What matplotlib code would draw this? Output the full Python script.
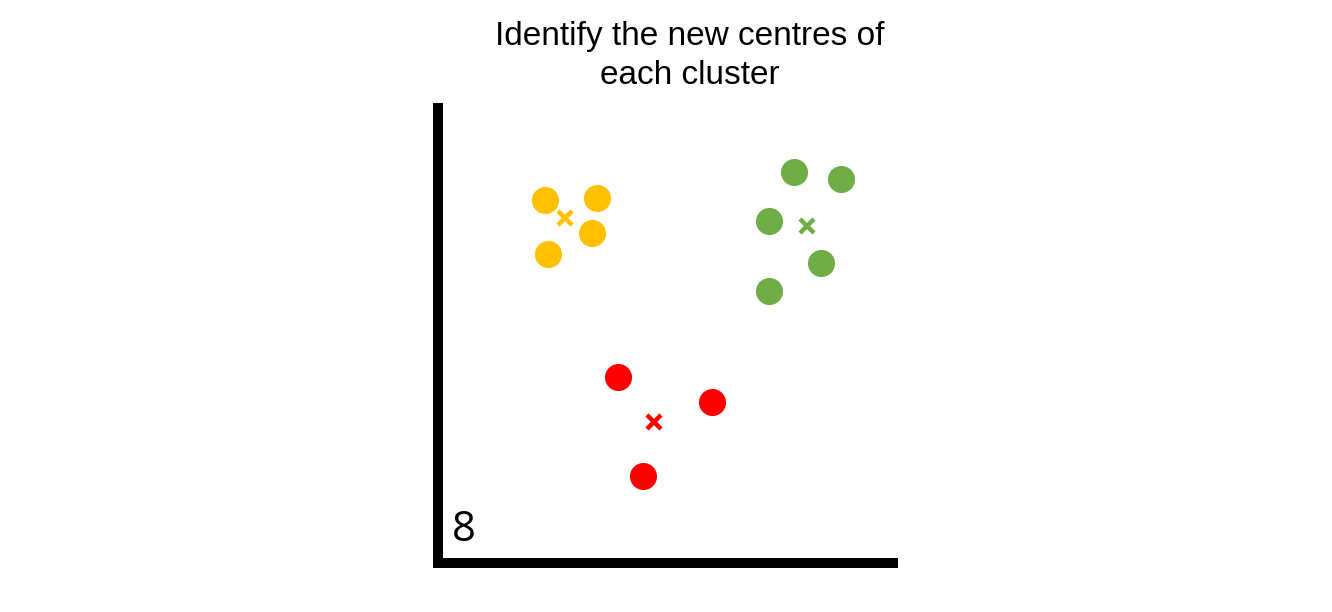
import matplotlib
matplotlib.use('Agg')
import matplotlib.pyplot as plt

# Dados dos clusters (unidades arbitrárias)
yellow_x = [107, 159, 154, 110]
yellow_y = [363, 365, 330, 309]
green_x = [356, 403, 331, 383, 331]
green_y = [391, 384, 342, 300, 272]
red_x = [180, 274, 205]
red_y = [186, 161, 87]

# Novos centros
centre_x = [127, 369, 216]
centre_y = [345, 337, 141]

c_yellow = '#FFC000'
c_green = '#70AD47'
c_red = '#FF0000'
centre_colors = [c_yellow, c_green, c_red]

fig = plt.figure(figsize=(13.32, 6.12), dpi=100)
ax = fig.add_axes([438 / 1332, 49 / 612, 455 / 1332, 455 / 612])

ax.scatter(yellow_x, yellow_y, s=380, color=c_yellow, linewidths=0)
ax.scatter(green_x, green_y, s=380, color=c_green, linewidths=0)
ax.scatter(red_x, red_y, s=380, color=c_red, linewidths=0)

for cx, cy, col in zip(centre_x, centre_y, centre_colors):
    ax.plot(cx, cy, marker='x', color=col, markersize=10, mew=3.2, linestyle='none')

ax.set_xlim(0, 455)
ax.set_ylim(0, 455)
ax.set_xticks([])
ax.set_yticks([])
for side in ['top', 'right']:
    ax.spines[side].set_visible(False)
for side in ['left', 'bottom']:
    ax.spines[side].set_linewidth(7.2)
    ax.spines[side].set_color('black')

ax.text(14, 12, '8', fontsize=30, family='Open Sans', color='black', va='bottom', ha='left')

fig.text(690 / 1332, 1 - 56 / 612, 'Identify the new centres of\neach cluster',
         ha='center', va='center', fontsize=24, family='Liberation Sans',
         linespacing=1.3)

plt.savefig('out.png', dpi=100, facecolor='white')
